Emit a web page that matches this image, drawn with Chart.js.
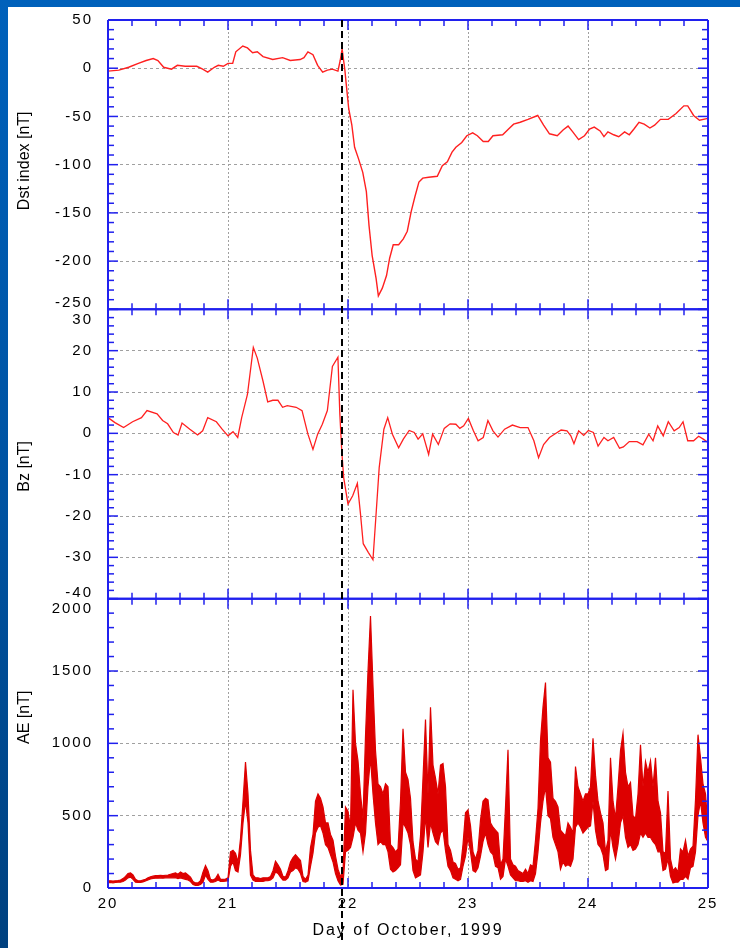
<!DOCTYPE html>
<html>
<head>
<meta charset="utf-8">
<script src="https://cdn.jsdelivr.net/npm/chart.js@4.4.1/dist/chart.umd.min.js"></script>
<style>
  html, body { margin: 0; padding: 0; }
  body { width: 740px; height: 948px; overflow: hidden;
         background: linear-gradient(to bottom, #0061bb 0%, #0052a0 55%, #00417f 100%); }
  #sheet { position: absolute; left: 8px; top: 7px; width: 732px; height: 941px; background: #fff; }
  canvas { display: block; }
</style>
</head>
<body>
<div id="sheet"><canvas id="storm" width="732" height="941"></canvas></div>
<script>
// tick labels
const dayTicks = [20, 21, 22, 23, 24, 25];
const dstTicks = [-250, -200, -150, -100, -50, 0, 50];
const bzTicks = [-40, -30, -20, -10, 0, 10, 20, 30];
const aeTicks = [0, 500, 1000, 1500, 2000];
const shockDay = [21.95];

// Dst index (nT)
const dstDay = [20.000, 20.091, 20.172, 20.253, 20.318, 20.377, 20.416, 20.464, 20.529, 20.578,
  20.643, 20.740, 20.789, 20.831, 20.886, 20.919, 20.961, 21.000, 21.039, 21.065,
  21.123, 21.162, 21.205, 21.244, 21.292, 21.373, 21.455, 21.519, 21.601, 21.633,
  21.666, 21.708, 21.747, 21.789, 21.828, 21.870, 21.916, 21.935, 21.951, 21.974,
  21.984, 22.006, 22.032, 22.055, 22.088, 22.123, 22.153, 22.175, 22.201, 22.234,
  22.253, 22.286, 22.321, 22.347, 22.377, 22.422, 22.461, 22.494, 22.526, 22.558,
  22.591, 22.623, 22.672, 22.744, 22.786, 22.828, 22.867, 22.899, 22.948, 22.990,
  23.039, 23.078, 23.127, 23.169, 23.208, 23.289, 23.338, 23.380, 23.435, 23.500,
  23.581, 23.630, 23.679, 23.744, 23.792, 23.834, 23.873, 23.922, 23.971, 24.013,
  24.052, 24.101, 24.133, 24.166, 24.214, 24.256, 24.305, 24.344, 24.383, 24.425,
  24.468, 24.516, 24.555, 24.604, 24.669, 24.734, 24.799, 24.831, 24.880, 24.929,
  25.000];
const dstValue = [-3, -2, 1, 5, 8, 10, 8, 1, -1, 3,
  2, 2, -1, -4, 1, 3, 2, 5, 5, 17,
  23, 21, 16, 17, 12, 9, 11, 8, 9, 11,
  17, 14, 3, -4, -2, -1, -3, 8, 20, -2,
  -15, -42, -59, -82, -94, -108, -128, -163, -194, -218,
  -236, -228, -215, -197, -183, -183, -177, -169, -149, -133,
  -118, -114, -113, -112, -101, -97, -87, -82, -77, -70,
  -67, -70, -76, -76, -70, -69, -63, -58, -56, -53,
  -49, -59, -68, -70, -64, -60, -66, -74, -70, -63,
  -61, -65, -71, -66, -69, -71, -66, -69, -63, -56,
  -58, -62, -59, -53, -53, -47, -39, -39, -49, -54,
  -52];

// IMF Bz (nT)
const bzDay = [20.000, 20.058, 20.130, 20.205, 20.279, 20.325, 20.409, 20.455, 20.497, 20.545,
  20.584, 20.617, 20.682, 20.747, 20.789, 20.831, 20.903, 20.951, 21.000, 21.042,
  21.081, 21.114, 21.162, 21.211, 21.244, 21.292, 21.331, 21.373, 21.416, 21.455,
  21.494, 21.568, 21.617, 21.666, 21.708, 21.747, 21.786, 21.828, 21.870, 21.916,
  21.932, 21.948, 21.964, 22.000, 22.039, 22.078, 22.104, 22.127, 22.169, 22.208,
  22.234, 22.260, 22.299, 22.331, 22.370, 22.422, 22.461, 22.510, 22.552, 22.584,
  22.623, 22.672, 22.705, 22.753, 22.802, 22.851, 22.899, 22.932, 22.964, 23.003,
  23.045, 23.084, 23.127, 23.166, 23.208, 23.250, 23.305, 23.370, 23.435, 23.500,
  23.549, 23.588, 23.630, 23.679, 23.727, 23.776, 23.825, 23.857, 23.883, 23.922,
  23.964, 24.003, 24.045, 24.084, 24.133, 24.166, 24.214, 24.263, 24.295, 24.344,
  24.409, 24.458, 24.506, 24.542, 24.581, 24.627, 24.669, 24.718, 24.760, 24.792,
  24.831, 24.880, 24.922, 24.961, 25.000];
const bzValue = [3.8, 2.6, 1.4, 2.8, 3.8, 5.5, 4.7, 3.1, 2.3, 0.2,
  -0.4, 2.5, 1.0, -0.4, 0.6, 3.8, 2.8, 1.0, -0.6, 0.4,
  -1.0, 3.8, 9.4, 20.8, 18.2, 12.6, 7.6, 8.0, 8.0, 6.3,
  6.7, 6.3, 5.5, -0.2, -3.9, -0.2, 2.2, 5.5, 16.2, 18.4,
  4.6, -4.3, -10.7, -17.1, -15.1, -12.1, -19.5, -26.7, -28.8, -30.6,
  -19.5, -8.3, 1.0, 3.8, -0.2, -3.5, -1.4, 0.7, 0.2, -1.4,
  -0.1, -5.1, -0.2, -2.7, 1.2, 2.3, 2.2, 1.2, 1.8, 3.6,
  0.6, -1.8, -1.0, 3.1, 0.6, -0.9, 1.0, 2.0, 1.4, 1.4,
  -1.8, -5.9, -2.7, -1.0, -0.1, 0.8, 0.6, -0.6, -2.5, 0.6,
  -0.5, 0.7, 0.2, -3.1, -1.0, -1.8, -1.0, -3.6, -3.3, -2.0,
  -2.0, -2.8, -0.2, -1.8, 1.8, -0.6, 2.8, 0.6, 1.4, 2.8,
  -1.8, -1.8, -0.7, -1.4, -2.2];

// AE index (nT): highest and lowest value in each 30-minute bin from day 20.0
const aeStart = 20;
const aeStep = 1 / 48;
const aeHigh = [
  50, 50, 48, 50, 52, 55, 65, 80, 100, 105, 90, 60,
  50, 50, 55, 60, 70, 78, 82, 85, 85, 88, 85, 88,
  90, 95, 100, 105, 95, 110, 100, 105, 90, 75, 45, 35,
  35, 50, 110, 155, 120, 60, 55, 65, 95, 60, 60, 62,
  // day 21
  70, 250, 260, 240, 180, 340, 600, 870, 650, 260, 90, 70,
  70, 65, 70, 70, 70, 80, 120, 185, 160, 130, 80, 75,
  120, 180, 210, 230, 210, 190, 80, 60, 90, 280, 370, 600,
  650, 620, 560, 450, 450, 370, 330, 220, 130, 80, 110, 560,
  // day 22
  530, 420, 1370, 1000, 880, 650, 480, 1050, 1500, 1880, 1400, 950,
  720, 700, 650, 720, 700, 300, 280, 250, 270, 600, 1100, 800,
  750, 620, 320, 200, 180, 360, 760, 1165, 650, 1250, 850, 760,
  650, 850, 860, 700, 300, 260, 180, 170, 130, 140, 300, 520,
  // day 23
  540, 430, 250, 200, 260, 470, 600, 620, 610, 450, 420, 400,
  380, 160, 200, 560, 955, 200, 160, 150, 120, 110, 100, 130,
  100, 160, 150, 330, 550, 1020, 1250, 1420, 900, 870, 620, 600,
  560, 400, 380, 360, 450, 420, 380, 840, 700, 650, 600, 650,
  // day 24
  650, 700, 1035, 780, 600, 520, 450, 250, 330, 900, 600, 480,
  700, 950, 1070, 800, 700, 730, 500, 480, 650, 990, 700, 875,
  800, 880, 700, 900, 600, 520, 250, 240, 670, 200, 120, 140,
  110, 270, 250, 330, 220, 270, 290, 610, 1060, 900, 720, 650,
  420];
const aeLow = [
  35, 38, 36, 38, 40, 40, 45, 55, 70, 75, 60, 40,
  38, 38, 42, 48, 55, 62, 66, 68, 68, 70, 68, 70,
  70, 70, 70, 72, 65, 70, 65, 60, 55, 45, 25, 18,
  18, 25, 40, 90, 60, 40, 40, 45, 55, 45, 45, 48,
  // day 21
  50, 150, 180, 120, 110, 230, 450, 600, 450, 90, 55, 45,
  45, 45, 45, 50, 50, 55, 70, 110, 100, 75, 55, 55,
  70, 110, 120, 140, 130, 100, 45, 40, 50, 150, 240, 380,
  420, 430, 380, 300, 280, 230, 180, 100, 50, 20, 25, 250,
  // day 22
  260, 280, 350, 450, 400, 380, 250, 380, 700, 900, 650, 450,
  300, 320, 300, 300, 250, 130, 110, 120, 140, 160, 450, 420,
  380, 300, 120, 70, 80, 90, 250, 500, 280, 450, 380, 320,
  300, 380, 400, 260, 150, 120, 70, 60, 50, 60, 150, 220,
  // day 23
  350, 250, 120, 110, 140, 220, 320, 380, 300, 250, 230, 150,
  140, 60, 80, 200, 150, 90, 70, 50, 50, 45, 45, 50,
  40, 50, 45, 100, 250, 450, 600, 700, 500, 480, 350, 300,
  250, 130, 180, 150, 160, 150, 200, 420, 450, 420, 380, 400,
  // day 24
  420, 430, 600, 400, 300, 280, 230, 120, 130, 400, 280, 200,
  300, 450, 500, 350, 280, 300, 260, 270, 300, 380, 350, 380,
  350, 350, 320, 300, 250, 250, 120, 130, 200, 80, 35, 40,
  40, 60, 60, 80, 60, 140, 150, 250, 500, 600, 450, 350,
  320];

const FONT = "'Liberation Sans', Arial, sans-serif";
const BLUE = '#2020ee';
const AE_RED = '#dd0000';
const SPACING = '2px';   // the old plot font is set wide

// one entry per stacked panel, top to bottom
const panels = [
  { id: 'yDst', title: 'Dst index [nT]', minor: 10, major: 50, titleAt: -96 },
  { id: 'yBz', title: 'Bz [nT]', minor: 2, major: 10, titleAt: -8 },
  { id: 'yAE', title: 'AE [nT]', minor: 100, major: 500, titleAt: 1180 }
];
// labels sitting on panel joins, drawn above / below the join line
const edgeLabels = [
  { id: 'yDst', value: dstTicks[0], dy: -2 },
  { id: 'yBz', value: bzTicks[bzTicks.length - 1], dy: 15 },
  { id: 'yBz', value: bzTicks[0], dy: -2 },
  { id: 'yAE', value: aeTicks[aeTicks.length - 1], dy: 14 }
];

const pairs = (xs, ys) => ys.map((y, i) => ({ x: xs[i], y: y }));
const aeSeries = ys => ys.map((y, i) => ({ x: aeStart + i * aeStep, y: y }));

function yScale(id, ticks, weight) {
  const hidden = edgeLabels.filter(e => e.id === id).map(e => e.value);
  return {
    type: 'linear',
    position: 'left',
    stack: 'panels',
    stackWeight: 1,
    weight: weight,
    min: ticks[0],
    max: ticks[ticks.length - 1],
    afterBuildTicks: s => { s.ticks = ticks.map(v => ({ value: v })); },
    afterFit: s => { s.width = 100; s.paddingTop = 0; s.paddingBottom = 0; },
    ticks: {
      color: '#000',
      font: { family: FONT, size: 15 },
      padding: 15,
      callback: v => hidden.includes(v) ? '' : v
    },
    grid: { color: '#a0a0a0', lineWidth: 1, drawTicks: false },
    border: { display: false, dash: [3, 3] }
  };
}

const framePlugin = {
  id: 'frame',
  beforeDraw(chart) {
    chart.ctx.letterSpacing = SPACING;
  },
  afterDatasetsDraw(chart) {
    const { ctx, chartArea: a, scales } = chart;
    const x = scales.x;
    const seg = (x1, y1, x2, y2) => { ctx.beginPath(); ctx.moveTo(x1, y1); ctx.lineTo(x2, y2); ctx.stroke(); };
    ctx.save();
    ctx.strokeStyle = BLUE;
    const nx = Math.round((x.max - x.min) / 0.2);
    panels.forEach(p => {
      const s = scales[p.id];
      const top = s.getPixelForValue(s.max);
      const bottom = s.getPixelForValue(s.min);
      ctx.lineWidth = 1.5;
      const n = Math.round((s.max - s.min) / p.minor);
      for (let k = 0; k <= n; k++) {
        const v = s.min + k * p.minor;
        const y = s.getPixelForValue(v);
        const len = Math.abs(v % p.major) < 1e-9 ? 10 : 6;
        seg(a.left, y, a.left + len, y);
        seg(a.right, y, a.right - len, y);
      }
      for (let k = 0; k <= nx; k++) {
        const px = x.getPixelForValue(x.min + k * 0.2);
        const len = k % 5 === 0 ? 10 : 6;
        seg(px, top, px, top + len);
        seg(px, bottom, px, bottom - len);
      }
      ctx.lineWidth = 2;
      seg(a.left, top, a.right, top);
      seg(a.left, bottom, a.right, bottom);
    });
    ctx.lineWidth = 2;
    seg(a.left, a.top, a.left, a.bottom);
    seg(a.right, a.top, a.right, a.bottom);

    // shock arrival marker
    ctx.strokeStyle = '#000';
    ctx.setLineDash([7, 4]);
    shockDay.forEach(d => {
      const px = x.getPixelForValue(d);
      seg(px, a.top, px, a.bottom + 52);
    });
    ctx.restore();
  },
  afterDraw(chart) {
    const { ctx, chartArea: a, scales } = chart;
    ctx.save();
    ctx.fillStyle = '#000';
    ctx.font = '15px ' + FONT;
    ctx.textAlign = 'right';
    ctx.textBaseline = 'alphabetic';
    edgeLabels.forEach(e => {
      ctx.fillText(String(e.value), a.left - 15, scales[e.id].getPixelForValue(e.value) + e.dy);
    });
    ctx.letterSpacing = '0px';
    ctx.font = '16px ' + FONT;
    ctx.textAlign = 'center';
    ctx.textBaseline = 'middle';
    panels.forEach(p => {
      ctx.save();
      ctx.translate(17, scales[p.id].getPixelForValue(p.titleAt));
      ctx.rotate(-Math.PI / 2);
      ctx.fillText(p.title, 0, 0);
      ctx.restore();
    });
    ctx.restore();
    ctx.letterSpacing = '0px';
  }
};

new Chart(document.getElementById('storm').getContext('2d'), {
  type: 'line',
  data: {
    datasets: [
      { data: pairs(dstDay, dstValue), yAxisID: 'yDst', borderColor: '#ff2020', borderWidth: 1.4,
        pointRadius: 0, tension: 0 },
      { data: pairs(bzDay, bzValue), yAxisID: 'yBz', borderColor: '#ff2020', borderWidth: 1.3,
        pointRadius: 0, tension: 0 },
      { data: aeSeries(aeLow), yAxisID: 'yAE', borderColor: AE_RED, borderWidth: 1.2,
        pointRadius: 0, tension: 0, fill: false },
      { data: aeSeries(aeHigh), yAxisID: 'yAE', borderColor: AE_RED, borderWidth: 1.2,
        backgroundColor: AE_RED, pointRadius: 0, tension: 0, fill: '-1' }
    ]
  },
  options: {
    responsive: false,
    animation: false,
    events: [],
    layout: { padding: { top: 13, right: 32, left: 0, bottom: 0 } },
    plugins: { legend: { display: false }, tooltip: { enabled: false } },
    scales: {
      x: {
        type: 'linear',
        min: dayTicks[0],
        max: dayTicks[dayTicks.length - 1],
        afterBuildTicks: s => { s.ticks = dayTicks.map(v => ({ value: v })); },
        afterFit: s => { s.height = 60; },
        ticks: { color: '#000', font: { family: FONT, size: 15 }, padding: 7, maxRotation: 0, autoSkip: false },
        grid: { color: '#a0a0a0', lineWidth: 1, drawTicks: false },
        border: { display: false, dash: [2, 2] },
        title: { display: true, text: 'Day of October, 1999', color: '#000',
                 font: { family: FONT, size: 16 }, padding: { top: 0, bottom: 8 } }
      },
      yDst: yScale('yDst', dstTicks, 3),
      yBz: yScale('yBz', bzTicks, 2),
      yAE: yScale('yAE', aeTicks, 1)
    }
  },
  plugins: [framePlugin]
});
</script>
</body>
</html>
